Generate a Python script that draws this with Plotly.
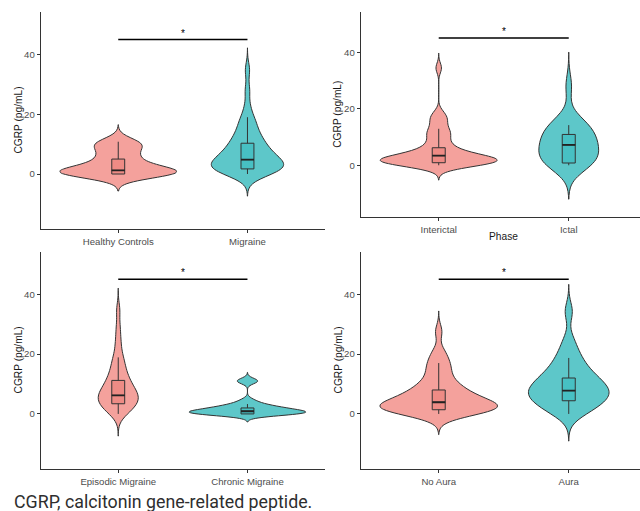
import plotly.graph_objects as go

# ---------------- data ----------------
panel_cats = [
    ["Healthy Controls", "Migraine"],
    ["Interictal", "Ictal"],
    ["Episodic Migraine", "Chronic Migraine"],
    ["No Aura", "Aura"],
]

hc = [0, 0, 0, 0, 0.1, 0.2, 0.3, 0.5, 0.6, 0.8, 1.0, 1.2, 1.5, 2.0, 2.8, 3.5, 4.5,
      5.0, 6.0, 7.0, 8.0, 9.0, 9.8, 10.3, 10.8, 10.8]
migraine = [0, 0, 0.3, 0.6, 1.0, 1.3, 1.6, 1.8, 2.0, 2.3, 2.6, 2.9, 3.2, 3.5, 3.8, 4.1,
            4.5, 4.8, 5.2, 5.6, 6.0, 6.5, 7.0, 7.5, 8.0, 8.6, 9.2, 10.0, 10.5, 11.2,
            12.0, 13.0, 14.0, 15.0, 16.5, 18.0, 19.0, 22.5, 28.0, 34.8]
interictal = [0, 0, 0, 0.3, 0.6, 0.8, 0.9, 1.0, 1.1, 1.3, 1.4, 1.5, 1.6, 1.8, 1.9, 2.0,
              2.1, 2.3, 2.5, 2.7, 2.9, 3.2, 3.4, 3.7, 4.0, 4.4, 4.9, 5.5, 6.2, 7.0,
              8.0, 9.0, 10.5, 11.0, 12.0, 12.9, 14.5, 16.0, 17.0, 18.5, 34.4]
ictal = [0, 0, 0.5, 1.0, 1.5, 2.5, 3.5, 4.5, 5.5, 6.5, 7.2, 8.0, 9.0, 10.0, 11.0,
         12.0, 13.0, 14.0, 15.0, 16.0, 28.0]
episodic = [0, 0.5, 1.0, 1.8, 2.5, 3.0, 3.4, 3.8, 4.2, 4.6, 5.0, 5.4, 5.8, 6.2, 6.6,
            7.0, 7.5, 8.0, 8.6, 9.2, 9.8, 10.5, 11.2, 12.0, 13.0, 14.0, 15.0, 16.5,
            18.0, 19.0, 22.0, 25.0, 29.0, 34.6]
chronic = [0, 0, 0, 0, 0.1, 0.3, 0.5, 0.7, 0.9, 1.0, 1.2, 1.5, 1.8, 2.0, 2.4, 2.8,
           3.3, 4.5, 10.8, 11.2]
no_aura = [0, 0, 0.3, 0.6, 0.9, 1.2, 1.4, 1.6, 1.8, 2.0, 2.2, 2.4, 2.6, 2.8, 3.0, 3.3,
           3.6, 3.9, 4.2, 4.6, 5.0, 5.5, 6.0, 6.5, 7.0, 7.5, 8.0, 8.8, 9.6, 10.5,
           11.5, 13.0, 14.5, 16.0, 17.0, 19.0, 21.0, 27.5]
aura = [0, 0.8, 1.8, 2.8, 3.6, 4.4, 5.0, 5.6, 6.2, 6.8, 7.4, 7.8, 8.4, 9.0, 9.8, 10.6,
        11.4, 12.0, 13.0, 14.0, 15.5, 17.0, 18.7, 21.0, 24.5, 34.2]

panel_samples = [[hc, migraine], [interictal, ictal], [episodic, chronic], [no_aura, aura]]
panel_bw = [[1.9, 2.47], [1.75, 4.0], [2.47, 0.9], [2.3, 3.03]]

# box statistics: q1, median, q3, lower whisker, upper whisker
box_q1 = [[0.0, 1.7], [0.9, 0.8], [3.4, 0.0], [1.4, 4.4]]
box_med = [[1.2, 4.8], [3.4, 7.2], [6.2, 0.9], [3.9, 7.8]]
box_q3 = [[5.0, 10.3], [6.2, 10.9], [11.2, 2.0], [8.0, 12.0]]
box_lo = [[0, 0], [0, 0], [0, 0], [0, 0]]
box_hi = [[10.8, 19.0], [12.9, 14.2], [18.9, 3.3], [17.0, 18.7]]

sig_y = [45, 45, 45, 45]
sig_label = ["*", "*", "*", "*"]

y_title = "CGRP (pg/mL)"
x_title_phase = "Phase"
caption = "CGRP, calcitonin gene-related peptide."

# ---------------- styles / layout ----------------
W, H = 640, 511
violin_fill = ["#F4A19C", "#5DC7C9"]
box_fill = ["#EE8B85", "#47C0C3"]
outline = "#333333"
violin_width = [[0.9, 0.56], [0.9, 0.46], [0.31, 0.9], [0.9, 0.62]]

# panel pixel boxes: (left, right, top, bottom)
panel_px = [
    (40.7, 325.0, 12.0, 229.0),
    (360.7, 640.0, 12.0, 217.3),
    (40.7, 325.0, 251.7, 469.0),
    (360.7, 640.0, 251.7, 469.0),
]
x_ranges = [[-0.6, 1.6], [-0.6, 1.548], [-0.6, 1.6], [-0.6, 1.548]]
y_range = [-18.4, 54.2]

tick_font = dict(family="Liberation Sans, Arial, sans-serif", size=9.6, color="#4D4D4D")
title_font = dict(family="Liberation Sans, Arial, sans-serif", size=10.2, color="#1A1A1A")

fig = go.Figure()
layout = dict(
    width=W, height=H,
    margin=dict(l=0, r=0, t=0, b=0),
    paper_bgcolor="white", plot_bgcolor="white",
    showlegend=False,
    violinmode="overlay", boxmode="overlay",
    annotations=[],
)

for p in range(4):
    xa = "x" if p == 0 else f"x{p+1}"
    ya = "y" if p == 0 else f"y{p+1}"
    xkey = "xaxis" if p == 0 else f"xaxis{p+1}"
    ykey = "yaxis" if p == 0 else f"yaxis{p+1}"
    l, r, t, b = panel_px[p]
    cats = panel_cats[p]

    for i in range(2):
        s = panel_samples[p][i]
        bw = panel_bw[p][i]
        fig.add_trace(go.Violin(
            x=[cats[i]] * len(s), y=s, xaxis=xa, yaxis=ya,
            orientation="v", bandwidth=bw, spanmode="manual",
            span=[min(s) - 3 * bw, max(s) + 3 * bw],
            width=violin_width[p][i], scalemode="width",
            fillcolor=violin_fill[i], line=dict(color=outline, width=1),
            points=False, box_visible=False, meanline_visible=False,
            opacity=1, hoverinfo="skip",
        ))
    for i in range(2):
        fig.add_trace(go.Box(
            x=[cats[i]], q1=[box_q1[p][i]], median=[box_med[p][i]], q3=[box_q3[p][i]],
            lowerfence=[box_lo[p][i]], upperfence=[box_hi[p][i]],
            xaxis=xa, yaxis=ya, orientation="v", width=0.1, whiskerwidth=0,
            fillcolor=box_fill[i], line=dict(color=outline, width=1),
            boxpoints=False, hoverinfo="skip",
        ))
        # thicker median stroke (ggplot's fattened median)
        m = box_med[p][i]
        fig.add_trace(go.Box(
            x=[cats[i]], q1=[m], median=[m], q3=[m], lowerfence=[m], upperfence=[m],
            xaxis=xa, yaxis=ya, orientation="v", width=0.1, whiskerwidth=0,
            fillcolor="rgba(0,0,0,0)", line=dict(color="#222222", width=1.8),
            boxpoints=False, hoverinfo="skip",
        ))
    # significance bar
    fig.add_trace(go.Scatter(
        x=cats, y=[sig_y[p], sig_y[p]], xaxis=xa, yaxis=ya, mode="lines",
        line=dict(color="black", width=1.5), hoverinfo="skip",
    ))
    layout["annotations"].append(dict(
        x=0.5, y=sig_y[p], xref=xa, yref=ya, text=sig_label[p], showarrow=False,
        yanchor="bottom", yshift=-1, font=dict(family="Liberation Sans, Arial", size=10, color="black"),
    ))

    axis_common = dict(
        showline=True, linecolor="#333333", linewidth=1.1,
        ticks="outside", ticklen=3, tickwidth=1, tickcolor="#333333",
        showgrid=False, zeroline=False, tickfont=tick_font,
    )
    layout[xkey] = dict(
        domain=[l / W, r / W], anchor=ya, type="category",
        categoryorder="array", categoryarray=cats, range=x_ranges[p], **axis_common,
    )
    layout[ykey] = dict(
        domain=[1 - b / H, 1 - t / H], anchor=xa, range=y_range,
        tickvals=[0, 20, 40], ticktext=["0", "20", "40"], **axis_common,
    )
    # y axis title
    layout["annotations"].append(dict(
        x=(l - 22.6) / W, y=1 - ((t + b) / 2) / H, xref="paper", yref="paper",
        text=y_title, textangle=-90, showarrow=False, xanchor="center", yanchor="middle",
        font=title_font,
    ))

layout["annotations"].append(dict(
    x=503 / W, y=1 - 236.5 / H, xref="paper", yref="paper", text=x_title_phase,
    showarrow=False, xanchor="center", yanchor="middle", font=title_font,
))
layout["annotations"].append(dict(
    x=12 / W, y=1 - 501 / H, xref="paper", yref="paper", text=caption,
    showarrow=False, xanchor="left", yanchor="middle",
    font=dict(family="Roboto, sans-serif", size=17.8, color="#2E2E2E"),
))

fig.update_layout(**layout)
fig.write_html(
    "out.html",
    config={"displayModeBar": False},
    post_script="document.body.style.margin='0px';document.body.style.overflow='hidden';",
)
